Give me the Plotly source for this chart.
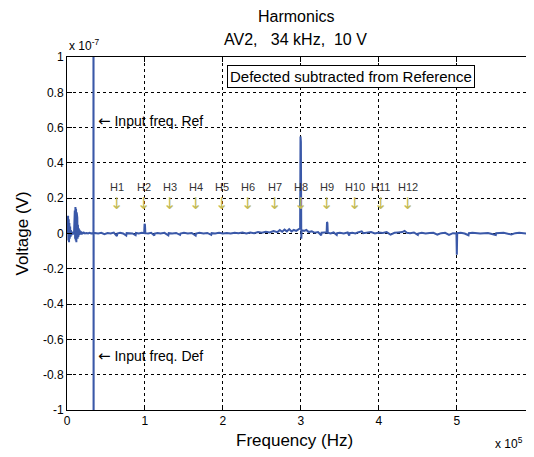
import plotly.graph_objects as go

# frequency in units of 1e5 Hz, voltage in units of 1e-7 V
freq_low = [0.000, 0.006, 0.010, 0.014, 0.018, 0.022, 0.026, 0.030, 0.035, 0.040, 0.045, 0.050,
            0.055, 0.060, 0.065, 0.070, 0.075, 0.080, 0.085, 0.090, 0.095, 0.100, 0.104, 0.108,
            0.112, 0.116, 0.120, 0.124, 0.128, 0.132, 0.136, 0.140, 0.145, 0.150, 0.155, 0.160,
            0.170, 0.180, 0.190, 0.200, 0.215, 0.230, 0.250, 0.270, 0.290, 0.310, 0.330]
volt_low = [0.000, 0.090, 0.020, 0.100, -0.040, 0.080, -0.050, 0.060, -0.030, 0.040, -0.020, 0.020,
            -0.010, 0.010, 0.000, 0.005, -0.005, 0.000, 0.010, 0.000, 0.060, 0.130, -0.030, 0.150,
            -0.040, 0.140, -0.050, 0.120, -0.040, 0.090, -0.030, 0.050, -0.020, 0.030, -0.010, 0.020,
            0.005, -0.005, 0.005, 0.000, 0.005, 0.000, 0.003, 0.000, 0.004, 0.000, 0.002]

# input frequency (34 kHz) runs off the scale in both directions
freq_input = [0.339, 0.340, 0.341, 0.342]
volt_input = [0.000, 5.000, -5.000, 0.000]

freq_mid = [0.36, 0.40, 0.44, 0.48, 0.52, 0.56, 0.60, 0.64, 0.645, 0.68, 0.72, 0.76, 0.765,
            0.80, 0.84, 0.88, 0.885, 0.92, 0.96, 0.99, 0.995, 1.000, 1.005, 1.04, 1.08, 1.12,
            1.125, 1.16, 1.20, 1.25, 1.30, 1.305, 1.35, 1.40, 1.45, 1.455, 1.50, 1.55, 1.60,
            1.65, 1.655, 1.70, 1.75, 1.80, 1.85, 1.855, 1.90, 1.95, 2.00, 2.05, 2.10, 2.15,
            2.20, 2.25, 2.30, 2.35, 2.40, 2.45, 2.50, 2.55, 2.60, 2.65, 2.70, 2.73, 2.76, 2.79,
            2.82, 2.85, 2.88, 2.91, 2.94, 2.97, 2.99]
volt_mid = [0.003, 0.000, 0.004, -0.004, 0.003, 0.000, 0.005, -0.015, 0.000, 0.004, 0.000, -0.012, 0.002,
            0.003, 0.000, -0.010, 0.003, 0.000, 0.004, 0.002, 0.055, 0.050, 0.002, 0.000, 0.004, -0.012,
            0.000, 0.003, 0.000, 0.004, -0.010, 0.002, 0.000, 0.003, -0.008, 0.000, 0.004, 0.000, 0.003,
            -0.012, 0.000, 0.004, 0.000, 0.003, -0.008, 0.002, 0.000, 0.004, 0.000, 0.003, 0.000, 0.004,
            0.002, 0.005, 0.000, 0.006, 0.002, 0.008, 0.004, 0.010, 0.006, 0.014, 0.008, 0.020, 0.010, 0.022,
            0.012, 0.025, 0.012, 0.020, 0.015, 0.025, 0.030]

freq_high = [2.995, 3.000, 3.005, 3.01, 3.04, 3.07, 3.10, 3.14, 3.18, 3.22, 3.26, 3.265, 3.30,
             3.33, 3.335, 3.34, 3.345, 3.38, 3.42, 3.46, 3.465, 3.50, 3.55, 3.60, 3.62, 3.625,
             3.66, 3.70, 3.73, 3.78, 3.80, 3.85, 3.90, 3.95, 4.00, 4.05, 4.10, 4.15, 4.20, 4.25,
             4.30, 4.33, 4.36, 4.40, 4.45, 4.50, 4.505, 4.55, 4.60, 4.65, 4.70, 4.75, 4.80, 4.85,
             4.90, 4.95, 4.995, 5.000, 5.005, 5.05, 5.10, 5.15, 5.155, 5.20, 5.30, 5.40, 5.50,
             5.505, 5.60, 5.70, 5.75, 5.80, 5.90, 6.00]
volt_high = [0.550, 0.520, -0.030, 0.020, 0.015, 0.020, 0.008, 0.012, 0.004, 0.008, -0.010, 0.004, 0.005,
             0.006, 0.065, 0.060, 0.004, 0.000, 0.006, -0.008, 0.002, 0.004, 0.000, 0.006, -0.012, 0.002,
             0.004, 0.000, 0.006, 0.012, 0.002, 0.005, 0.008, 0.000, 0.006, 0.003, 0.008, -0.006, 0.004, 0.006,
             0.008, 0.015, 0.004, 0.002, 0.006, -0.008, 0.000, 0.004, 0.000, 0.003, 0.004, -0.006, 0.002, 0.004,
             -0.008, 0.002, 0.000, -0.120, 0.002, 0.004, 0.000, -0.010, 0.002, 0.004, 0.000, 0.003, -0.008,
             0.002, 0.004, -0.006, 0.002, 0.004, 0.000, 0.002]

harmonic_labels = ['H1', 'H2', 'H3', 'H4', 'H5', 'H6', 'H7', 'H8', 'H9', 'H10', 'H11', 'H12']
harmonic_pos = [0.64, 0.985, 1.32, 1.65, 1.987, 2.32, 2.667, 3.0, 3.33, 3.69, 4.026, 4.37]

x_ticks = [0, 1, 2, 3, 4, 5]
y_ticks = [-1, -0.8, -0.6, -0.4, -0.2, 0, 0.2, 0.4, 0.6, 0.8, 1]
y_tick_text = ['-1', '-0.8', '-0.6', '-0.4', '-0.2', '0', '0.2', '0.4', '0.6', '0.8', '1']

FONT = 'Liberation Sans, Arial, sans-serif'
LINE_COLOR = '#3a58a8'
ARROW = '<span style="font-family:DejaVu Sans;font-size:15px">\u2190</span>'


def text_note(text, x, y, size, xref='paper', yref='paper', **kw):
    d = dict(text=text, x=x, y=y, xref=xref, yref=yref, showarrow=False,
             xanchor='center', yanchor='middle', font=dict(size=size))
    d.update(kw)
    return d


def create_plot():
    freq = freq_low + freq_input + freq_mid + freq_high
    volt = volt_low + volt_input + volt_mid + volt_high

    fig = go.Figure()
    fig.add_trace(go.Scatter(x=freq, y=volt, mode='lines',
                             line=dict(color=LINE_COLOR, width=2), showlegend=False))

    axis_style = dict(showline=True, linecolor='black', linewidth=1, mirror='ticks',
                      ticks='inside', ticklen=5, tickcolor='black',
                      showgrid=True, gridcolor='black', gridwidth=1, griddash='3px,3px',
                      zeroline=False, tickfont=dict(size=12, color='black', family=FONT))
    fig.update_xaxes(range=[0, 5.99], tickvals=x_ticks, ticktext=[str(t) for t in x_ticks],
                     **axis_style)
    fig.update_yaxes(range=[-1, 1], tickvals=y_ticks, ticktext=y_tick_text, **axis_style)

    ann = []
    # titles (page is offset 8px by the browser body margin)
    ann.append(text_note('Harmonics', 0.49, 1, 16, yshift=41))
    ann.append(text_note('AV2,   34 kHz,  10 V', 0.49, 1, 16, yshift=18))
    # axis titles
    ann.append(text_note('Frequency (Hz)', 0.488, 0, 17, yshift=-30))
    ann.append(text_note('Voltage (V)', 0, 0.5, 17, xshift=-45, textangle=-90))
    # exponent labels
    ann.append(text_note('x 10<sup>-7</sup>', 0, 1, 12, xanchor='left', yshift=12))
    ann.append(text_note('x 10<sup>5</sup>', 0.912, 0, 12, xanchor='left', yshift=-33))
    # box legend
    ann.append(text_note('Defected subtracted from Reference', 0.608, 0.946, 15,
                         bordercolor='black', borderwidth=1, borderpad=2, bgcolor='white'))
    # input frequency markers
    ann.append(text_note(ARROW + ' Input freq. Ref', 0.37, 0.64, 14, xref='x', yref='y',
                         xanchor='left'))
    ann.append(text_note(ARROW + ' Input freq. Def', 0.37, -0.695, 14, xref='x', yref='y',
                         xanchor='left'))
    # harmonic markers
    for lab, pos in zip(harmonic_labels, harmonic_pos):
        ann.append(text_note(lab, pos, 0.263, 11, xref='x', yref='y',
                             font=dict(size=11, color='#333333')))
        ann.append(text_note('\u2193', pos, 0.17, 16, xref='x', yref='y',
                             font=dict(size=16, color='#c4bb55', family='DejaVu Sans')))

    fig.update_layout(width=526, height=449,
                      margin=dict(l=59, r=0, t=49, b=47),
                      plot_bgcolor='white', paper_bgcolor='white',
                      font=dict(family=FONT, color='black'),
                      annotations=ann)
    fig.write_html('out.html')


def main():
    create_plot()


if __name__ == '__main__':
    main()
